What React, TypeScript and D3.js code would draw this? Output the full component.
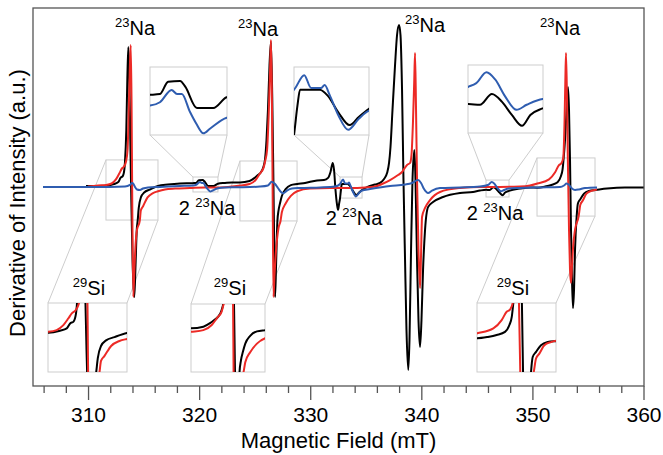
import React from 'react';
import * as d3 from 'd3';

// EPR spectra: [field (mT), derivative intensity (a.u.)]
const blackTrace: [number, number][] = [
  [309.77, 0.011], [310.67, 0.011], [311.59, 0.012], [312.28, 0.022], [312.68, 0.033], [312.88, 0.057],
  [313.08, 0.066], [313.23, 0.106], [313.28, 0.146], [313.40, 0.322], [313.49, 0.600], [313.58, 0.783],
  [313.67, 0.628], [313.76, 0.267], [313.85, -0.067], [313.96, -0.400], [314.12, -0.606], [314.23, -0.428],
  [314.34, -0.233], [314.42, -0.183], [314.52, -0.111], [314.71, -0.052], [315.01, -0.025], [315.51, -0.009],
  [316.25, 0.011], [317.15, 0.019], [318.23, 0.025], [319.40, 0.027], [319.69, 0.028], [319.93, 0.043],
  [320.28, 0.044], [320.43, 0.037], [320.77, 0.011], [321.06, 0.011], [321.25, 0.011], [321.64, 0.024],
  [322.28, 0.028], [322.91, 0.031], [323.63, 0.031], [324.49, 0.039], [324.95, 0.056], [325.25, 0.072],
  [325.52, 0.088], [325.76, 0.121], [325.88, 0.156], [326.02, 0.267], [326.15, 0.433], [326.29, 0.683],
  [326.42, 0.811], [326.54, 0.489], [326.64, 0.044], [326.72, -0.344], [326.79, -0.606], [326.88, -0.428],
  [327.00, -0.183], [327.10, -0.126], [327.24, -0.083], [327.40, -0.044], [327.74, -0.006], [328.21, 0.016],
  [328.78, 0.022], [329.49, 0.028], [330.57, 0.042], [331.20, 0.044], [331.56, 0.056], [331.78, 0.089],
  [331.98, 0.139], [332.10, 0.100], [332.23, -0.011], [332.37, -0.094], [332.46, -0.122], [332.55, -0.089],
  [332.64, -0.056], [332.73, -0.006], [332.80, 0.022], [333.00, 0.022], [333.32, 0.022], [333.54, 0.011],
  [333.81, -0.017], [334.11, -0.039], [334.35, -0.025], [334.62, -0.011], [335.16, 0.008], [335.79, 0.019],
  [336.24, 0.028], [336.60, 0.050], [336.87, 0.083], [337.05, 0.139], [337.18, 0.228], [337.36, 0.433],
  [337.59, 0.683], [337.77, 0.850], [337.95, 0.906], [338.08, 0.850], [338.22, 0.544], [338.35, 0.044],
  [338.49, -0.400], [338.62, -0.789], [338.78, -1.011], [338.89, -0.844], [339.03, -0.344], [339.16, 0.044],
  [339.33, 0.211], [339.43, 0.044], [339.57, -0.400], [339.70, -0.733], [339.84, -0.883], [339.97, -0.733],
  [340.11, -0.456], [340.29, -0.233], [340.56, -0.106], [341.01, -0.078], [341.91, -0.050], [343.44, -0.028],
  [344.61, -0.022], [345.24, -0.014], [345.79, -0.010], [346.11, -0.011], [346.44, 0.004], [346.72, -0.007],
  [346.99, -0.025], [347.27, -0.040], [347.50, -0.025], [347.84, -0.016], [348.84, -0.003], [349.74, 0.003],
  [350.39, 0.002], [351.09, 0.008], [351.67, 0.017], [352.22, 0.032], [352.51, 0.064], [352.67, 0.103],
  [352.77, 0.167], [352.89, 0.267], [353.03, 0.433], [353.16, 0.561], [353.25, 0.433], [353.34, 0.156],
  [353.43, -0.233], [353.52, -0.511], [353.61, -0.667], [353.70, -0.567], [353.79, -0.344], [353.94, -0.156],
  [354.05, -0.086], [354.27, -0.062], [354.60, -0.031], [355.04, -0.016], [355.66, -0.011], [356.67, -0.003],
  [358.29, 0.003], [360.00, 0.003],
];

const redTrace: [number, number][] = [
  [309.95, 0.008], [310.85, 0.014], [311.59, 0.017], [312.08, 0.025], [312.48, 0.049], [312.78, 0.082],
  [312.98, 0.106], [313.17, 0.118], [313.37, 0.146], [313.51, 0.211], [313.62, 0.433], [313.71, 0.656],
  [313.80, 0.794], [313.87, 0.489], [313.94, -0.122], [314.03, -0.606], [314.11, -0.483], [314.23, -0.317],
  [314.36, -0.233], [314.61, -0.183], [314.71, -0.124], [314.91, -0.101], [315.31, -0.052], [315.80, -0.028],
  [316.25, -0.018], [316.88, -0.008], [317.78, -0.003], [319.13, 0.000], [320.48, 0.003], [321.83, 0.003],
  [322.91, 0.008], [323.63, 0.014], [324.49, 0.022], [325.07, 0.047], [325.42, 0.080], [325.76, 0.113],
  [325.88, 0.145], [326.07, 0.211], [326.23, 0.433], [326.34, 0.656], [326.42, 0.822], [326.50, 0.544],
  [326.57, -0.011], [326.65, -0.606], [326.74, -0.483], [326.88, -0.344], [327.10, -0.222], [327.28, -0.183],
  [327.40, -0.135], [327.74, -0.086], [328.21, -0.044], [328.78, -0.018], [329.94, -0.003], [331.74, 0.000],
  [333.54, 0.000], [334.89, 0.003], [335.79, 0.008], [336.42, 0.022], [337.14, 0.044], [337.86, 0.072],
  [338.22, 0.089], [338.67, 0.128], [338.94, 0.139], [339.07, 0.183], [339.21, 0.378], [339.32, 0.600],
  [339.39, 0.750], [339.48, 0.433], [339.57, 0.044], [339.70, -0.344], [339.84, -0.556], [339.93, -0.372],
  [340.02, -0.161], [340.29, -0.111], [340.74, -0.067], [341.64, -0.022], [343.44, 0.000], [345.24, 0.006],
  [347.04, 0.006], [348.84, 0.008], [349.74, 0.014], [350.39, 0.025], [351.45, 0.048], [352.00, 0.087],
  [352.33, 0.126], [352.55, 0.136], [352.73, 0.167], [352.85, 0.378], [352.92, 0.600], [352.98, 0.750],
  [353.07, 0.489], [353.16, 0.100], [353.25, -0.233], [353.34, -0.456], [353.43, -0.528], [353.52, -0.428],
  [353.61, -0.333], [353.79, -0.233], [354.12, -0.156], [354.27, -0.093], [354.49, -0.070], [354.82, -0.031],
  [355.26, -0.016], [355.77, -0.008],
];

const blueTrace: [number, number][] = [
  [305.90, 0.006], [309.23, 0.006], [311.93, 0.006], [313.28, 0.008], [313.73, 0.017], [313.91, 0.028],
  [314.05, 0.022], [314.18, 0.006], [314.36, -0.008], [314.63, -0.011], [314.90, -0.003], [315.35, 0.003],
  [316.43, 0.006], [318.23, 0.011], [319.40, 0.014], [319.69, 0.018], [320.03, 0.033], [320.19, 0.028],
  [320.33, 0.028], [320.57, 0.006], [320.75, -0.008], [320.96, -0.020], [321.16, -0.014], [321.64, -0.001],
  [322.28, 0.003], [323.63, 0.004], [325.43, 0.008], [326.15, 0.014], [326.49, 0.035], [326.79, 0.022],
  [327.05, 0.000], [327.32, -0.022], [327.53, -0.029], [327.86, -0.014], [328.31, -0.003], [329.04, 0.000],
  [330.84, 0.003], [332.19, 0.008], [332.64, 0.022], [332.91, 0.047], [333.09, 0.025], [333.36, 0.025],
  [333.45, 0.030], [333.58, 0.013], [333.81, -0.022], [334.07, -0.047], [334.35, -0.028], [334.62, -0.014],
  [335.34, -0.006], [337.14, 0.011], [338.49, 0.019], [339.12, 0.028], [339.66, 0.044], [339.93, 0.028],
  [340.20, -0.006], [340.56, -0.028], [340.92, -0.014], [341.64, 0.000], [343.44, 0.003], [345.24, 0.008],
  [345.79, 0.014], [346.01, 0.019], [346.29, 0.034], [346.53, 0.024], [346.80, 0.001], [347.12, -0.018],
  [347.40, -0.011], [347.84, -0.003], [348.84, 0.000], [350.64, 0.003], [352.44, 0.006], [352.80, 0.014],
  [353.03, 0.025], [353.25, 0.017], [353.52, -0.003], [353.79, -0.011], [354.15, -0.008], [354.69, 0.000],
  [355.77, 0.003],
];

const majorTicks = [310, 320, 330, 340, 350, 360];
const minorTicks = d3.range(306, 361, 2).filter((t) => t % 10 !== 0);

const peakLabels = ['23', '23', '23', '23'];
const pairLabels = ['23', '23', '23'];
const siLabels = ['29', '29', '29'];

// zoom windows: field range, intensity range
const zooms = [
  { field: [319.40, 321.65], span: [-0.022, 0.061], series: ['black', 'blue'], pos: 'top', box: [150, 67, 77, 68] },
  { field: [332.64, 334.62], span: [-0.056, 0.061], series: ['black', 'blue'], pos: 'top', box: [294, 67, 75, 68] },
  { field: [345.78, 347.85], span: [-0.050, 0.044], series: ['black', 'blue'], pos: 'top', box: [468, 65, 75, 68] },
  { field: [311.57, 316.25], span: [-0.178, 0.156], series: ['black', 'red'], pos: 'bottom', box: [48, 303, 79, 69] },
  { field: [323.63, 328.77], span: [-0.183, 0.150], series: ['black', 'red'], pos: 'bottom', box: [191, 304, 74, 68] },
  { field: [350.37, 355.59], span: [-0.156, 0.167], series: ['black', 'red'], pos: 'bottom', box: [477, 303, 79, 69] },
];

const W = 663;
const H = 455;
const L = 33, R = 644, T = 8, B = 386;
const FONT = '"Liberation Sans", Arial, Helvetica, sans-serif';
const colors: Record<string, string> = { black: '#000000', red: '#ec2a26', blue: '#2f5db0' };
const traces: Record<string, [number, number][]> = { black: blackTrace, red: redTrace, blue: blueTrace };
const GRAY = '#cdcdcd';

const x = d3.scaleLinear().domain([305, 360]).range([L, R]);
const y = d3.scaleLinear().domain([-1.1, 1.0]).range([B, T]);

const mkLine = (sx: d3.ScaleLinear<number, number>, sy: d3.ScaleLinear<number, number>) =>
  d3.line<[number, number]>().x((d) => sx(d[0])).y((d) => sy(d[1])).curve(d3.curveMonotoneX);

const Iso = ({ cx, cy, mass, pre, el }: { cx: number; cy: number; mass: string; pre?: string; el: string }) => (
  <text x={cx} y={cy} textAnchor="middle" fontFamily={FONT} fontSize={20} fill="#000">
    {pre ? pre + ' ' : ''}
    <tspan fontSize={13} dy={-8}>{mass}</tspan>
    <tspan dy={8}>{el}</tspan>
  </text>
);

export default function App() {
  const main = mkLine(x, y);
  return (
    <svg width={W} height={H} style={{ position: 'absolute', left: 0, top: 0, background: '#fff' }}>
      <defs>
        <clipPath id="plot">
          <rect x={L} y={T} width={R - L} height={B - T} />
        </clipPath>
        {zooms.map((z, i) => (
          <clipPath id={`inset${i}`} key={i}>
            <rect x={z.box[0]} y={z.box[1]} width={z.box[2]} height={z.box[3]} />
          </clipPath>
        ))}
      </defs>

      {/* zoom source boxes and connectors */}
      {zooms.map((z, i) => {
        const sx0 = x(z.field[0]);
        const sx1 = x(z.field[1]);
        const sy0 = y(z.span[1]);
        const sy1 = y(z.span[0]);
        const [bx, by, bw, bh] = z.box;
        const conn =
          z.pos === 'top'
            ? [[bx, by + bh, sx0, sy0], [bx + bw, by + bh, sx1, sy0]]
            : [[bx, by, sx0, sy0], [bx + bw, by, sx1, sy1]];
        return (
          <g key={i} stroke={GRAY} strokeWidth={1} fill="none">
            <rect x={sx0} y={sy0} width={sx1 - sx0} height={sy1 - sy0} />
            {conn.map((c, j) => (
              <line key={j} x1={c[0]} y1={c[1]} x2={c[2]} y2={c[3]} />
            ))}
          </g>
        );
      })}

      {/* main spectra */}
      <g clipPath="url(#plot)" fill="none" strokeWidth={2} strokeLinejoin="round">
        {['black', 'red', 'blue'].map((k) => (
          <path key={k} d={main(traces[k]) || ''} stroke={colors[k]} />
        ))}
      </g>

      {/* insets */}
      {zooms.map((z, i) => {
        const [bx, by, bw, bh] = z.box;
        const sx = d3.scaleLinear().domain(z.field).range([bx, bx + bw]);
        const sy = d3.scaleLinear().domain(z.span).range([by + bh, by]);
        const ln = mkLine(sx, sy);
        return (
          <g key={i}>
            <rect x={bx} y={by} width={bw} height={bh} fill="#fff" stroke={GRAY} strokeWidth={1} />
            <g clipPath={`url(#inset${i})`} fill="none" strokeWidth={2}>
              {z.series.map((k) => (
                <path key={k} d={ln(traces[k]) || ''} stroke={colors[k]} />
              ))}
            </g>
          </g>
        );
      })}

      {/* frame */}
      <rect x={L} y={T} width={R - L} height={B - T} fill="none" stroke="#555" strokeWidth={1.3} />

      {/* x axis ticks */}
      <g stroke="#555" strokeWidth={1.3}>
        {majorTicks.map((t) => (
          <line key={t} x1={x(t)} x2={x(t)} y1={B} y2={B + 14} />
        ))}
        {minorTicks.map((t) => (
          <line key={t} x1={x(t)} x2={x(t)} y1={B} y2={B + 7} />
        ))}
      </g>
      <g fontFamily={FONT} fontSize={21} textAnchor="middle" fill="#000">
        {majorTicks.map((t) => (
          <text key={t} x={x(t)} y={422}>{t}</text>
        ))}
        <text x={(L + R) / 2} y={448} fontSize={22}>Magnetic Field (mT)</text>
        <text transform="translate(25,203) rotate(-90)" fontSize={22}>Derivative of Intensity (a.u.)</text>
      </g>

      {/* annotations */}
      <Iso cx={135} cy={35} mass={peakLabels[0]} el="Na" />
      <Iso cx={258} cy={36} mass={peakLabels[1]} el="Na" />
      <Iso cx={425} cy={32} mass={peakLabels[2]} el="Na" />
      <Iso cx={560} cy={35} mass={peakLabels[3]} el="Na" />
      <Iso cx={207} cy={215} pre="2" mass={pairLabels[0]} el="Na" />
      <Iso cx={354} cy={225} pre="2" mass={pairLabels[1]} el="Na" />
      <Iso cx={495} cy={220} pre="2" mass={pairLabels[2]} el="Na" />
      <Iso cx={89} cy={295} mass={siLabels[0]} el="Si" />
      <Iso cx={230} cy={295} mass={siLabels[1]} el="Si" />
      <Iso cx={513} cy={295} mass={siLabels[2]} el="Si" />
    </svg>
  );
}
